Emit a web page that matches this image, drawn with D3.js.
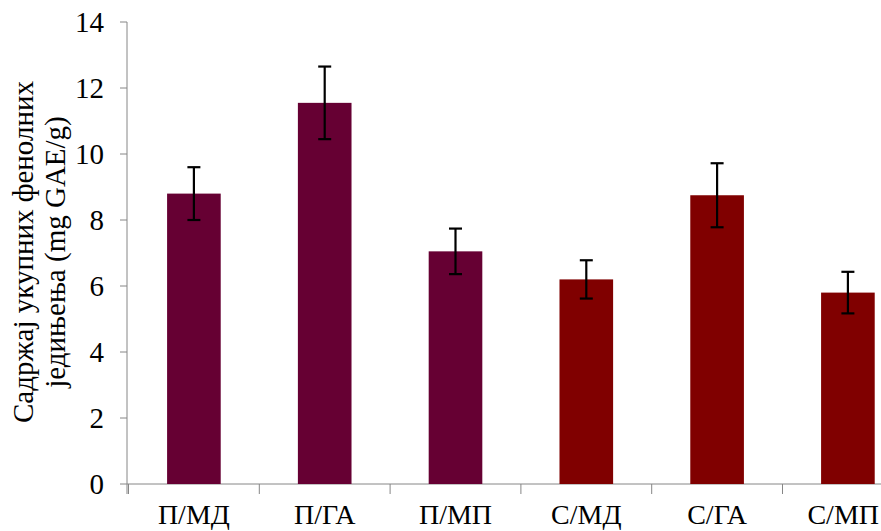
<!DOCTYPE html>
<html>
<head>
<meta charset="utf-8">
<script src="https://cdn.jsdelivr.net/npm/d3@7"></script>
<style>
  html, body { margin: 0; padding: 0; background: #fff; }
  svg { display: block; }
  text { font-family: "Liberation Serif", "Times New Roman", serif; fill: #000; }
</style>
</head>
<body>
<svg id="chart" width="881" height="531"></svg>
<script>
// Total phenolic content per extract (mg GAE/g) with standard deviation
const categories = ["П/МД", "П/ГА", "П/МП", "С/МД", "С/ГА", "С/МП"];
const groups     = ["П", "П", "П", "С", "С", "С"];
const means      = [8.8, 11.55, 7.05, 6.2, 8.75, 5.8];
const errors     = [0.8, 1.1, 0.69, 0.58, 0.97, 0.63];
const yTicks     = [0, 2, 4, 6, 8, 10, 12, 14];
const titleLines = ["Садржај укупних фенолних", "једињења (mg GAE/g)"];

const groupColor = { "П": "#660033", "С": "#800000" };

const W = 881;
const svg = d3.select("#chart");
const axisX = 127;
const x = d3.scaleBand()
  .domain(categories)
  .range([128.5, 128.5 + 6 * 130.8])
  .paddingInner(0.59)
  .paddingOuter(0.295);
const y = d3.scaleLinear().domain([0, 14]).range([484, 22]);

const axisColor = "#868686";

// Value axis
svg.append("line")
  .attr("x1", axisX).attr("x2", axisX)
  .attr("y1", y(14)).attr("y2", y(0) + 10)
  .attr("stroke", axisColor).attr("stroke-width", 1);

svg.selectAll(".ytick").data(yTicks).enter().append("line")
  .attr("x1", axisX - 7).attr("x2", axisX)
  .attr("y1", d => y(d)).attr("y2", d => y(d))
  .attr("stroke", axisColor).attr("stroke-width", 1);

svg.selectAll(".ylab").data(yTicks).enter().append("text")
  .attr("x", 104).attr("y", d => y(d))
  .attr("dy", "0.35em")
  .attr("text-anchor", "end")
  .style("font-size", "29px")
  .text(d => d);

// Category axis
svg.append("line")
  .attr("x1", axisX).attr("x2", W)
  .attr("y1", y(0)).attr("y2", y(0))
  .attr("stroke", axisColor).attr("stroke-width", 1);

const step = x.step();
const boundaries = categories.map((c, i) => x.range()[0] + i * step);
svg.selectAll(".xtick").data(boundaries).enter().append("line")
  .attr("x1", d => d).attr("x2", d => d)
  .attr("y1", y(0)).attr("y2", y(0) + 10)
  .attr("stroke", axisColor).attr("stroke-width", 1);

svg.selectAll(".xlab").data(categories).enter().append("text")
  .attr("x", d => x(d) + x.bandwidth() / 2)
  .attr("y", 524)
  .attr("text-anchor", "middle")
  .style("font-size", "28px")
  .text(d => d)
  .each(function () {
    // keep the rightmost label inside the drawing area
    const w = this.getComputedTextLength();
    const cx = +this.getAttribute("x");
    if (cx + w / 2 > W - 2) this.setAttribute("x", W - 2 - w / 2);
  });

// Bars
svg.selectAll(".bar").data(categories).enter().append("rect")
  .attr("x", d => x(d))
  .attr("width", x.bandwidth())
  .attr("y", (d, i) => y(means[i]))
  .attr("height", (d, i) => y(0) - y(means[i]))
  .attr("fill", (d, i) => groupColor[groups[i]]);

// Error bars
const capHalf = 6.5;
const eb = svg.selectAll(".err").data(categories).enter().append("g")
  .attr("stroke", "#000").attr("stroke-width", 2.2);
eb.append("line")
  .attr("x1", d => x(d) + x.bandwidth() / 2).attr("x2", d => x(d) + x.bandwidth() / 2)
  .attr("y1", (d, i) => y(means[i] + errors[i]))
  .attr("y2", (d, i) => y(means[i] - errors[i]));
eb.append("line")
  .attr("x1", d => x(d) + x.bandwidth() / 2 - capHalf).attr("x2", d => x(d) + x.bandwidth() / 2 + capHalf)
  .attr("y1", (d, i) => y(means[i] + errors[i]))
  .attr("y2", (d, i) => y(means[i] + errors[i]));
eb.append("line")
  .attr("x1", d => x(d) + x.bandwidth() / 2 - capHalf).attr("x2", d => x(d) + x.bandwidth() / 2 + capHalf)
  .attr("y1", (d, i) => y(means[i] - errors[i]))
  .attr("y2", (d, i) => y(means[i] - errors[i]));

// Axis title
const title = svg.append("text")
  .attr("transform", "translate(33, 252) rotate(-90)")
  .attr("text-anchor", "middle")
  .style("font-size", "29px");
title.selectAll("tspan").data(titleLines).enter().append("tspan")
  .attr("x", 0)
  .attr("dy", (d, i) => i === 0 ? 0 : 32)
  .text(d => d);
</script>
</body>
</html>
